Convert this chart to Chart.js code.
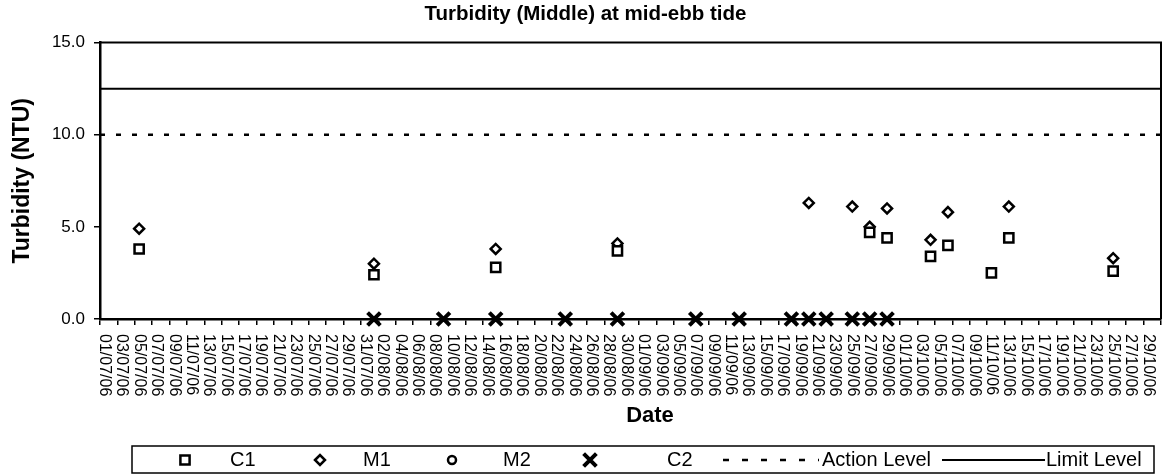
<!DOCTYPE html>
<html><head><meta charset="utf-8">
<script src="https://cdn.jsdelivr.net/npm/chart.js@4.4.0/dist/chart.umd.min.js"></script>
<style>html,body{margin:0;padding:0;background:#fff;}#wrap{width:1174px;height:475px;position:relative;}</style>
</head><body><div id="wrap"><canvas id="c" width="1174" height="475"></canvas></div>
<script>
const chartTitle = 'Turbidity (Middle) at mid-ebb tide';
const yTitle = 'Turbidity (NTU)';
const xTitle = 'Date';
const startDate = '01/07/06';
const dateLabels = [
 '01/07/06','03/07/06','05/07/06','07/07/06','09/07/06','11/07/06','13/07/06','15/07/06','17/07/06','19/07/06','21/07/06','23/07/06','25/07/06','27/07/06','29/07/06','31/07/06',
 '02/08/06','04/08/06','06/08/06','08/08/06','10/08/06','12/08/06','14/08/06','16/08/06','18/08/06','20/08/06','22/08/06','24/08/06','26/08/06','28/08/06','30/08/06',
 '01/09/06','03/09/06','05/09/06','07/09/06','09/09/06','11/09/06','13/09/06','15/09/06','17/09/06','19/09/06','21/09/06','23/09/06','25/09/06','27/09/06','29/09/06',
 '01/10/06','03/10/06','05/10/06','07/10/06','09/10/06','11/10/06','13/10/06','15/10/06','17/10/06','19/10/06','21/10/06','23/10/06','25/10/06','27/10/06','29/10/06'
];
const yTickValues = [0, 5, 10, 15];
const c1Dates  = ['05/07/06','01/08/06','15/08/06','29/08/06','27/09/06','29/09/06','04/10/06','06/10/06','11/10/06','13/10/06','25/10/06'];
const c1Values = [3.8, 2.4, 2.8, 3.7, 4.7, 4.4, 3.4, 4.0, 2.5, 4.4, 2.6];
const m1Dates  = ['05/07/06','01/08/06','15/08/06','29/08/06','20/09/06','25/09/06','27/09/06','29/09/06','04/10/06','06/10/06','13/10/06','25/10/06'];
const m1Values = [4.9, 3.0, 3.8, 4.1, 6.3, 6.1, 5.0, 6.0, 4.3, 5.8, 6.1, 3.3];
const m2Dates  = [];
const m2Values = [];
const c2Dates  = ['01/08/06','09/08/06','15/08/06','23/08/06','29/08/06','07/09/06','12/09/06','18/09/06','20/09/06','22/09/06','25/09/06','27/09/06','29/09/06'];
const c2Values = [0,0,0,0,0,0,0,0,0,0,0,0,0];
const actionLevel = 10;
const limitLevel = 12.5;
const axisFirstDate = '01/07/06';
const axisLastDate = '30/10/06';

function dayIndex(s){
  const p = s.split('/').map(Number);
  const q = startDate.split('/').map(Number);
  return Math.round((Date.UTC(2000+p[2], p[1]-1, p[0]) - Date.UTC(2000+q[2], q[1]-1, q[0])) / 86400000);
}
function pts(dates, vals){ return dates.map((d,i)=>({x: dayIndex(d), y: vals[i]})); }

const xMin = dayIndex(axisFirstDate) - 0.5;
const xMax = dayIndex(axisLastDate) + 0.5;
const FONT = '"Liberation Sans", Arial, sans-serif';

const frame = {
  id: 'frame',
  afterDraw(chart){
    const ctx = chart.ctx, a = chart.chartArea, xs = chart.scales.x;
    ctx.save();
    ctx.strokeStyle = '#000';
    ctx.lineWidth = 2;
    ctx.beginPath();
    ctx.moveTo(a.left, a.top); ctx.lineTo(a.right, a.top); ctx.lineTo(a.right, a.bottom);
    ctx.stroke();
    // rotated date labels
    ctx.fillStyle = '#000';
    ctx.font = '16px ' + FONT;
    ctx.textAlign = 'left';
    ctx.textBaseline = 'middle';
    dateLabels.forEach(l => {
      const px = xs.getPixelForValue(dayIndex(l));
      ctx.save();
      ctx.translate(px, a.bottom + 15);
      ctx.rotate(Math.PI/2);
      ctx.fillText(l, 0, 0);
      ctx.restore();
    });
    // x axis title
    ctx.font = 'bold 22px ' + FONT;
    ctx.textAlign = 'center';
    ctx.fillText(xTitle, 650, 416);
    // legend
    const ly = 460;
    ctx.lineWidth = 1.5;
    ctx.strokeRect(132, 446, 1022, 27);
    ctx.font = '20px ' + FONT;
    ctx.textAlign = 'left';
    const items = [
      {m:'rect', x:185, t:'C1', tx:230},
      {m:'rectRot', x:320, t:'M1', tx:363},
      {m:'circle', x:452, t:'M2', tx:503},
      {m:'crossRot', x:590, t:'C2', tx:667}
    ];
    items.forEach(it => {
      const ds = chart.data.datasets.find(d => d.label === it.t);
      ctx.save();
      ctx.strokeStyle = '#000'; ctx.fillStyle = '#fff';
      ctx.lineWidth = ds.borderWidth;
      Chart.helpers.drawPoint(ctx, {pointStyle: it.m, radius: ds.pointRadius, rotation: 0, borderWidth: ds.borderWidth}, it.x, ly);
      ctx.restore();
      ctx.fillText(it.t, it.tx, ly);
    });
    ctx.lineWidth = 2.5;
    ctx.setLineDash([6, 13]);
    ctx.beginPath(); ctx.moveTo(723, ly); ctx.lineTo(819, ly); ctx.stroke();
    ctx.setLineDash([]);
    ctx.fillText('Action Level', 822, ly);
    ctx.lineWidth = 2;
    ctx.beginPath(); ctx.moveTo(942, ly); ctx.lineTo(1045, ly); ctx.stroke();
    ctx.fillText('Limit Level', 1046, ly);
    ctx.restore();
  }
};

new Chart(document.getElementById('c'), {
  type: 'scatter',
  data: {
    datasets: [
      {label:'C1', data: pts(c1Dates, c1Values), pointStyle:'rect', pointRadius:6.5, borderWidth:2.5, borderColor:'#000', backgroundColor:'#fff', clip:false},
      {label:'M1', data: pts(m1Dates, m1Values), pointStyle:'rectRot', pointRadius:5, borderWidth:2.5, borderColor:'#000', backgroundColor:'#fff', clip:false},
      {label:'M2', data: pts(m2Dates, m2Values), pointStyle:'circle', pointRadius:4, borderWidth:2.5, borderColor:'#000', backgroundColor:'#fff', clip:false},
      {label:'C2', data: pts(c2Dates, c2Values), pointStyle:'crossRot', pointRadius:9, borderWidth:4, borderColor:'#000', backgroundColor:'#000', clip:false},
      {label:'Action Level', data:[{x:xMin,y:actionLevel},{x:xMax,y:actionLevel}], showLine:true, pointRadius:0, borderColor:'#000', borderWidth:2.5, borderDash:[5,11]},
      {label:'Limit Level', data:[{x:xMin,y:limitLevel},{x:xMax,y:limitLevel}], showLine:true, pointRadius:0, borderColor:'#000', borderWidth:2}
    ]
  },
  options: {
    responsive:false, devicePixelRatio:1, animation:false,
    layout:{padding:{left:0,right:3,top:0,bottom:0}},
    plugins:{
      legend:{display:false}, tooltip:{enabled:false},
      title:{display:true, text:chartTitle, color:'#000', font:{family:FONT, size:20.5, weight:'bold'}, padding:{top:2,bottom:16}}
    },
    scales:{
      x:{type:'linear', min:xMin, max:xMax,
        afterFit(s){ s.height = 156; },
        afterBuildTicks(s){ const t=[]; for(let v=xMin; v<=xMax+0.001; v+=2) t.push({value:v}); s.ticks = t; },
        ticks:{display:false},
        grid:{drawOnChartArea:false, drawTicks:true, tickLength:6, color:'#000', lineWidth:1.5},
        border:{display:true, color:'#000', width:2.5}
      },
      y:{min:0, max:15,
        afterFit(s){ s.width = 100; },
        afterBuildTicks(s){ s.ticks = yTickValues.map(v=>({value:v})); },
        ticks:{color:'#000', padding:9, font:{family:FONT, size:17}, callback:v=>Number(v).toFixed(1)},
        grid:{drawOnChartArea:false, drawTicks:true, tickLength:6, color:'#000', lineWidth:1.5},
        border:{display:true, color:'#000', width:2.5},
        title:{display:true, text:yTitle, color:'#000', font:{family:FONT, size:23, weight:'bold'}, padding:{top:9,bottom:0}}
      }
    }
  },
  plugins:[frame]
});
</script></body></html>
